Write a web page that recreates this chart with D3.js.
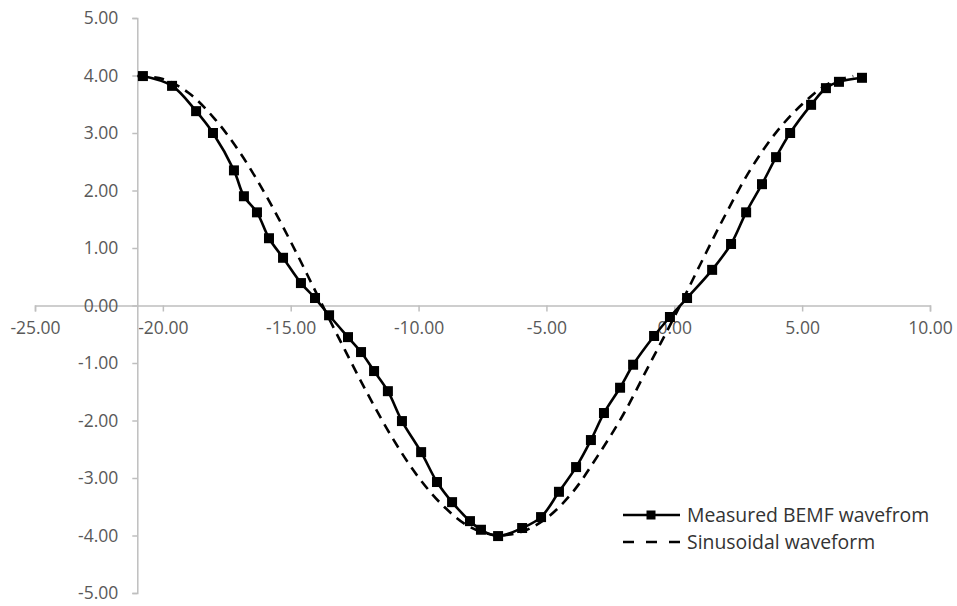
<!DOCTYPE html>
<html>
<head>
<meta charset="utf-8">
<script src="https://cdn.jsdelivr.net/npm/d3@7"></script>
<style>
  html, body { margin: 0; padding: 0; background: #ffffff; }
  svg { display: block; }
  text { font-family: "Open Sans", "Noto Sans", sans-serif; }
</style>
</head>
<body>
<svg id="chart" width="957" height="606"></svg>
<script>
// Measured back-EMF samples (x = position, y = voltage)
const measuredX = [-20.78, -19.64, -18.70, -18.04, -17.22, -16.83, -16.32, -15.85, -15.30, -14.60,
  -14.05, -13.50, -12.76, -12.25, -11.74, -11.20, -10.65, -9.90, -9.28, -8.69,
  -7.99, -7.56, -6.89, -5.95, -5.21, -4.51, -3.84, -3.26, -2.75, -2.12,
  -1.61, -0.79, -0.17, 0.50, 1.48, 2.22, 2.81, 3.43, 3.98, 4.53,
  5.35, 5.93, 6.44, 7.34];
const measuredY = [3.99, 3.82, 3.38, 3.00, 2.35, 1.90, 1.62, 1.17, 0.83, 0.39,
  0.13, -0.17, -0.55, -0.81, -1.14, -1.49, -2.01, -2.55, -3.07, -3.42,
  -3.75, -3.90, -4.01, -3.87, -3.68, -3.24, -2.81, -2.34, -1.87, -1.43,
  -1.03, -0.53, -0.20, 0.13, 0.62, 1.07, 1.62, 2.11, 2.58, 3.00,
  3.49, 3.78, 3.89, 3.96];

// Reference sinusoid
const sineX = [-21, -20, -19, -18, -17, -16, -15, -14, -13, -12, -11, -10, -9, -8, -7,
  -6, -5, -4, -3, -2, -1, 0, 1, 2, 3, 4, 5, 6, 7];
const sineY = [3.99, 3.94, 3.70, 3.26, 2.67, 1.94, 1.11, 0.22, -0.67, -1.53, -2.32, -2.99, -3.50, -3.85, -3.99,
  -3.94, -3.70, -3.26, -2.62, -1.90, -1.05, -0.20, 0.70, 1.58, 2.38, 3.02, 3.50, 3.85, 3.99];

const xTicks = [-25, -20, -15, -10, -5, 0, 5, 10];
const yTicks = [-5, -4, -3, -2, -1, 0, 1, 2, 3, 4, 5];
const yAxisCrossX = -21;
const seriesNames = ["Measured BEMF wavefrom", "Sinusoidal waveform"];

const svg = d3.select("#chart");
const x = d3.scaleLinear().domain([-25, 10]).range([35, 930]);
const y = d3.scaleLinear().domain([-5, 5]).range([593, 18]);

const axisColor = "#bfbfbf";
const labelColor = "#595959";
// Two decimals with a plain hyphen for negatives
const fmt = d => d.toFixed(2);

// Horizontal axis through y = 0
const gx = svg.append("g")
  .attr("transform", `translate(0,${y(0)})`)
  .call(d3.axisBottom(x).tickValues(xTicks).tickFormat(fmt).tickSize(6).tickPadding(10));

// Vertical axis at x = -21
const gy = svg.append("g")
  .attr("transform", `translate(${x(yAxisCrossX)},0)`)
  .call(d3.axisLeft(y).tickValues(yTicks).tickFormat(fmt).tickSize(5).tickPadding(14));

[gx, gy].forEach(g => {
  g.select(".domain").attr("stroke", axisColor).attr("stroke-width", 1.5);
  g.selectAll(".tick line").attr("stroke", axisColor).attr("stroke-width", 1.5);
  g.selectAll(".tick text")
    .attr("fill", labelColor)
    .attr("font-size", 17.5)
    .attr("font-family", "'Open Sans', 'Noto Sans', sans-serif");
});
gx.selectAll(".tick text").attr("dy", "0.71em");

// Curves
const line = d3.line()
  .x(d => x(d[0]))
  .y(d => y(d[1]))
  .curve(d3.curveCatmullRom.alpha(0.5));

const sinePts = sineX.map((v, i) => [v, sineY[i]]);
const measPts = measuredX.map((v, i) => [v, measuredY[i]]);

svg.append("path")
  .datum(sinePts)
  .attr("d", line)
  .attr("fill", "none")
  .attr("stroke", "#000")
  .attr("stroke-width", 2.6)
  .attr("stroke-dasharray", "10,7");

svg.append("path")
  .datum(measPts)
  .attr("d", line)
  .attr("fill", "none")
  .attr("stroke", "#000")
  .attr("stroke-width", 2.6);

const ms = 10;
svg.append("g").selectAll("rect")
  .data(measPts)
  .join("rect")
  .attr("x", d => x(d[0]) - ms / 2)
  .attr("y", d => y(d[1]) - ms / 2)
  .attr("width", ms)
  .attr("height", ms)
  .attr("fill", "#000");

// Legend
const legend = svg.append("g").attr("transform", "translate(623,515)");
legend.append("line")
  .attr("x1", 0).attr("x2", 57).attr("y1", 0).attr("y2", 0)
  .attr("stroke", "#000").attr("stroke-width", 2.6);
legend.append("rect")
  .attr("x", 28 - 4.5).attr("y", -4.5).attr("width", 9).attr("height", 9).attr("fill", "#000");
legend.append("text")
  .attr("x", 64).attr("y", 0).attr("dy", "0.35em")
  .attr("font-size", 19.4).attr("fill", "#333333")
  .text(seriesNames[0]);

legend.append("line")
  .attr("x1", 0).attr("x2", 57).attr("y1", 27).attr("y2", 27)
  .attr("stroke", "#000").attr("stroke-width", 2.6)
  .attr("stroke-dasharray", "11,12");
legend.append("text")
  .attr("x", 64).attr("y", 27).attr("dy", "0.35em")
  .attr("font-size", 19.4).attr("fill", "#333333")
  .text(seriesNames[1]);
</script>
</body>
</html>
